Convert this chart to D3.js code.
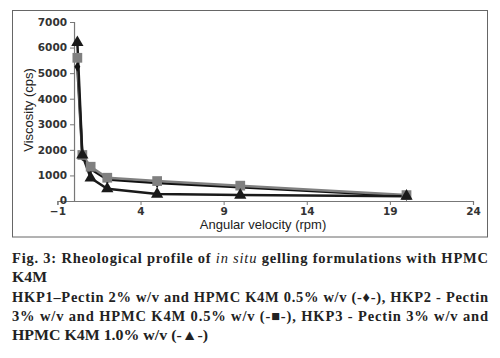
<!DOCTYPE html>
<html><head><meta charset="utf-8">
<script src="https://cdn.jsdelivr.net/npm/d3@7"></script>
<style>body{margin:0;background:#fff}svg{display:block}</style>
</head><body>
<script>
const speeds = [0.2, 0.5, 1, 2, 5, 10, 20];
const hkp1 = [5250, 1750, 1250, 840, 700, 540, 200];
const hkp2 = [5600, 1800, 1340, 910, 780, 600, 230];
const hkp3 = [6200, 1800, 900, 480, 270, 230, 190];
const xTicks = [-1, 4, 9, 14, 19, 24];
const yTicks = [0, 1000, 2000, 3000, 4000, 5000, 6000, 7000];
const xTitle = "Angular velocity (rpm)";
const yTitle = "Viscosity (cps)";

const W = 500, H = 358;
const svg = d3.select("body").append("svg").attr("width", W).attr("height", H);

svg.append("rect").attr("x", 12.5).attr("y", 10.5).attr("width", 475).attr("height", 226.5)
  .attr("fill", "#fff").attr("stroke", "#666").attr("stroke-width", 1);

const x = d3.scaleLinear().domain([-1, 24]).range([57.4, 473]);
const y = d3.scaleLinear().domain([0, 7000]).range([201, 22]);

const gx = svg.append("g").attr("transform", `translate(0,${y(0)})`)
  .call(d3.axisBottom(x).tickValues(xTicks).tickFormat(d3.format("d")).tickSize(4).tickPadding(3));
const gy = svg.append("g").attr("transform", `translate(${x(0)},0)`)
  .call(d3.axisLeft(y).tickValues(yTicks).tickFormat(d3.format("d")).tickSize(4).tickPadding(3));
[gx, gy].forEach(g => {
  g.select(".domain").attr("stroke", "#777").attr("stroke-width", 1.2);
  g.selectAll(".tick line").attr("stroke", "#777");
  g.selectAll("text").attr("font-family", "DejaVu Sans, sans-serif").attr("font-size", 10.5)
    .attr("font-weight", "bold").attr("fill", "#333");
});
gy.selectAll(".tick text").filter(d => d === 0).attr("dy", "0.2em");

svg.append("text").attr("x", 263).attr("y", 228.5).attr("text-anchor", "middle")
  .attr("font-family", "Liberation Sans, Arial, sans-serif").attr("font-size", 13).attr("fill", "#222").text(xTitle);
svg.append("text").attr("transform", "translate(33,110) rotate(-90)").attr("text-anchor", "middle")
  .attr("font-family", "Liberation Sans, Arial, sans-serif").attr("font-size", 13).attr("fill", "#222").text(yTitle);

const line = d3.line().x(d => x(d[0])).y(d => y(d[1]));
const series = [
  {vals: hkp1, color: "#111", shape: d3.symbolDiamond, size: 30},
  {vals: hkp2, color: "#808080", shape: d3.symbolSquare, size: 95},
  {vals: hkp3, color: "#1a1a1a", shape: d3.symbolTriangle, size: 65},
];
series.forEach(s => {
  const pts = speeds.map((v, i) => [v, s.vals[i]]);
  svg.append("path").datum(pts).attr("d", line).attr("fill", "none")
    .attr("stroke", s.color).attr("stroke-width", 2.5);
});
series.forEach(s => {
  const pts = speeds.map((v, i) => [v, s.vals[i]]);
  svg.append("g").selectAll("path").data(pts).join("path")
    .attr("transform", d => `translate(${x(d[0])},${y(d[1])})`)
    .attr("d", d3.symbol().type(s.shape).size(s.size)).attr("fill", s.color);
});

const cap = svg.append("g").attr("font-family", "Liberation Serif, serif").attr("font-weight", "bold")
  .attr("font-size", 14.5).attr("fill", "#222");
const l1 = cap.append("text").attr("x", 12).attr("y", 263).attr("textLength", 476).attr("lengthAdjust", "spacing");
l1.append("tspan").text("Fig. 3: Rheological profile of ");
l1.append("tspan").attr("font-style", "italic").attr("font-weight", "normal").text("in situ");
l1.append("tspan").text(" gelling formulations with HPMC");
cap.append("text").attr("x", 12).attr("y", 282).attr("textLength", 35).attr("lengthAdjust", "spacingAndGlyphs").text("K4M");
cap.append("text").attr("x", 12).attr("y", 302).attr("textLength", 476).attr("lengthAdjust", "spacing")
  .text("HKP1–Pectin 2% w/v and HPMC K4M 0.5% w/v (-♦-), HKP2 - Pectin");
cap.append("text").attr("x", 12).attr("y", 321).attr("textLength", 476).attr("lengthAdjust", "spacing")
  .text("3% w/v and HPMC K4M 0.5% w/v (-■-), HKP3 - Pectin 3% w/v and");
cap.append("text").attr("x", 12).attr("y", 340).attr("textLength", 196).attr("lengthAdjust", "spacingAndGlyphs")
  .text("HPMC K4M 1.0% w/v (-▲-)");
</script>
</body></html>
